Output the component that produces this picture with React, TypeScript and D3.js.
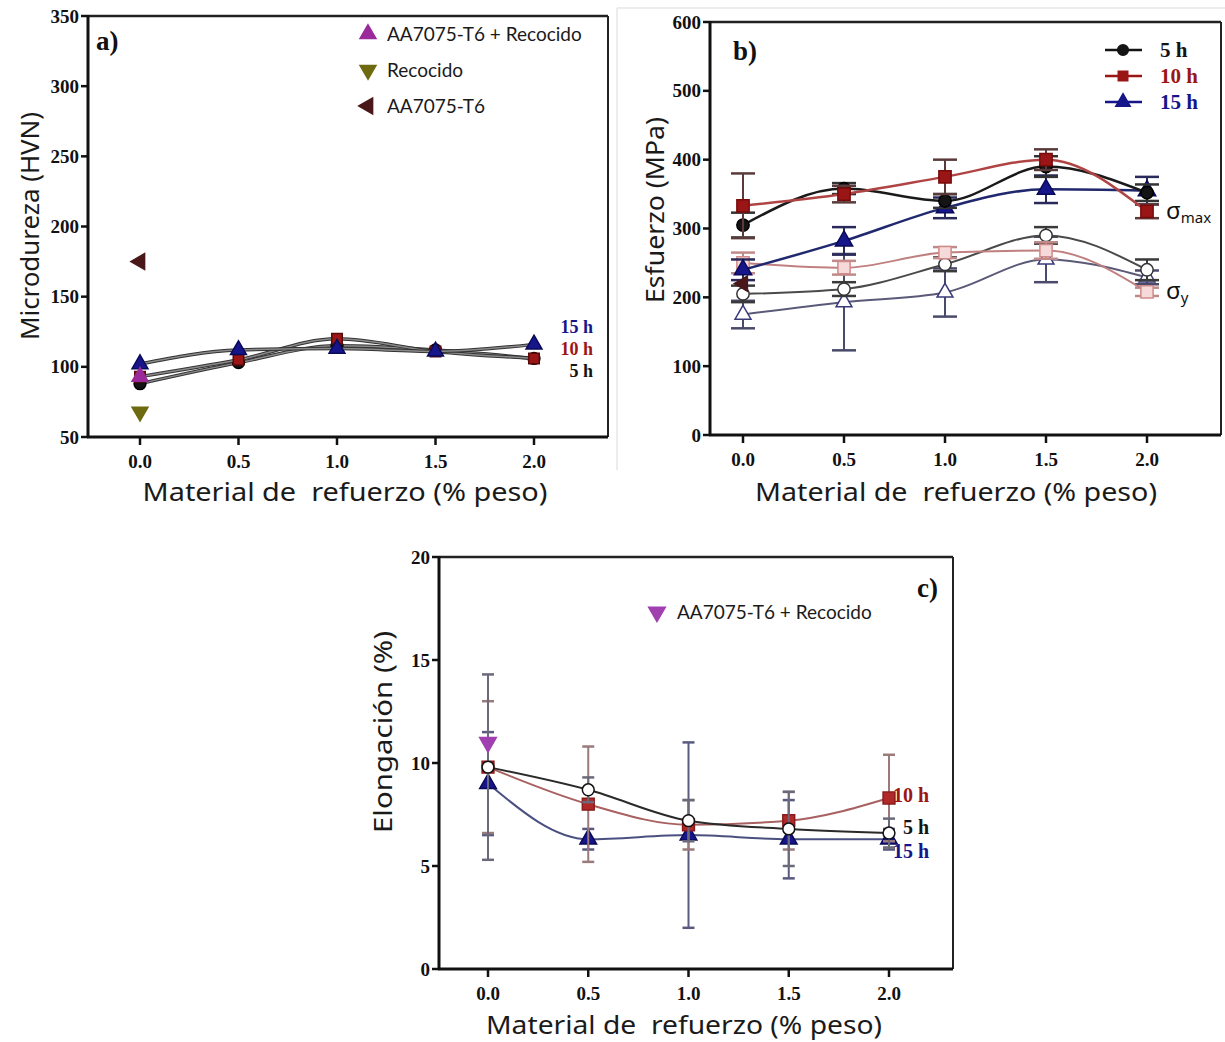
import React from "react";
import * as d3 from "d3";

// ---------- shared ----------
const X_VALUES = [0, 0.5, 1.0, 1.5, 2.0];
const X_TICK_LABELS = ["0.0", "0.5", "1.0", "1.5", "2.0"];
const X_TITLE = "Material de\u00a0 refuerzo (% peso)";
const SERIES_NAMES = ["5 h", "10 h", "15 h"];

// ---------- panel a: microdureza ----------
const HV_TICKS = [50, 100, 150, 200, 250, 300, 350];
const HV_5H = [88, 103, 115, 112, 106];
const HV_10H = [93, 105, 120, 111, 106];
const HV_15H = [102, 112, 113, 111, 116];
const HV_REF_NAMES = ["AA7075-T6 + Recocido", "Recocido", "AA7075-T6"];
const HV_REF_VALUES = [93, 68, 175];

// ---------- panel b: esfuerzo ----------
const MPA_TICKS = [0, 100, 200, 300, 400, 500, 600];
const SMAX_5H = [305, 358, 340, 390, 352];
const SMAX_5H_ERR = [18, 8, 10, 15, 12];
const SMAX_10H = [333, 350, 375, 400, 325];
const SMAX_10H_ERR = [47, 12, 25, 15, 10];
const SMAX_15H = [240, 282, 330, 357, 355];
const SMAX_15H_ERR = [15, 20, 15, 20, 20];
const SY_5H = [205, 212, 248, 290, 240];
const SY_5H_ERR = [12, 10, 10, 12, 15];
const SY_10H = [250, 243, 265, 268, 208];
const SY_10H_ERR = [15, 10, 8, 12, 6];
const SY_15H = [175, 193, 207, 255, 229];
const SY_15H_ERR = [20, 70, 35, 33, 10];
const MPA_REF_VALUE = 220;

// ---------- panel c: elongacion ----------
const EL_TICKS = [0, 5, 10, 15, 20];
const EL_5H = [9.8, 8.7, 7.2, 6.8, 6.6];
const EL_5H_ERR = [4.5, 0.6, 1.0, 1.8, 0.7];
const EL_10H = [9.8, 8.0, 7.0, 7.2, 8.3];
const EL_10H_ERR = [3.2, 2.8, 1.2, 1.4, 2.1];
const EL_15H = [9.0, 6.3, 6.5, 6.3, 6.3];
const EL_15H_ERR = [2.5, 0.5, 4.5, 1.9, 0.5];
const EL_REF_NAME = "AA7075-T6 + Recocido";
const EL_REF_VALUE = 11.0;

const TICK_FONT = "'Liberation Serif', 'Times New Roman', serif";
const TITLE_FONT = "'Noto Sans', 'DejaVu Sans', sans-serif";
const LEGEND_FONT = "Lato, 'Open Sans', sans-serif";

const C_BLACK = "#141414";
const C_RED = "#9a1616";
const C_NAVY = "#16168a";

type Scale = d3.ScaleLinear<number, number>;

function sym(type: d3.SymbolType, size: number) {
  return d3.symbol().type(type).size(size)() as string;
}

function Marker({ cx, cy, type, size, fill, stroke, rot = 0, sw = 1.5 }: any) {
  return (
    <path
      d={sym(type, size)}
      transform={`translate(${cx},${cy}) rotate(${rot})`}
      fill={fill}
      stroke={stroke}
      strokeWidth={sw}
    />
  );
}

function Frame({ x, y, left, right, top, bottom, ticks }: any) {
  return (
    <g>
      <line x1={left} x2={right} y1={top} y2={top} stroke="#222" strokeWidth={2.5} />
      <line x1={right} x2={right} y1={top} y2={bottom} stroke="#222" strokeWidth={2} />
      <line x1={left} x2={left} y1={top - 1} y2={bottom + 1} stroke="#111" strokeWidth={3} />
      <line x1={left - 1} x2={right} y1={bottom} y2={bottom} stroke="#111" strokeWidth={3} />
      {ticks.map((t: number) => (
        <g key={"y" + t}>
          <line x1={left - 7} x2={left} y1={y(t)} y2={y(t)} stroke="#111" strokeWidth={2.5} />
          <text
            x={left - 9}
            y={y(t)}
            dy="0.35em"
            textAnchor="end"
            fontFamily={TICK_FONT}
            fontWeight="bold"
            fontSize={19}
            fill="#111"
          >
            {t}
          </text>
        </g>
      ))}
      {X_VALUES.map((v, i) => (
        <g key={"x" + i}>
          <line x1={x(v)} x2={x(v)} y1={bottom} y2={bottom + 8} stroke="#111" strokeWidth={2.5} />
          <text
            x={x(v)}
            y={bottom + 31}
            textAnchor="middle"
            fontFamily={TICK_FONT}
            fontWeight="bold"
            fontSize={19}
            fill="#111"
          >
            {X_TICK_LABELS[i]}
          </text>
        </g>
      ))}
    </g>
  );
}

function Title({ x, y, text, len, rotate = false, size = 25 }: any) {
  return (
    <text
      x={0}
      y={0}
      transform={`translate(${x},${y})${rotate ? " rotate(-90)" : ""}`}
      textAnchor="middle"
      dy="0.35em"
      fontFamily={TITLE_FONT}
      fontSize={size}
      fill="#1a1a1a"
      textLength={len}
      lengthAdjust="spacingAndGlyphs"
    >
      {text}
    </text>
  );
}

function Series({ x, y, values, errors, lineColor, lineWidth = 2.5, outline, type, size, fill, stroke, errColor, cap = 10, rot = 0 }: any) {
  const pts: [number, number][] = values.map((v: number, i: number) => [x(X_VALUES[i]), y(v)]);
  const line = d3.line().curve(d3.curveMonotoneX)(pts) as string;
  return (
    <g>
      {errors &&
        values.map((v: number, i: number) => {
          const cx = x(X_VALUES[i]);
          const y1 = y(v + errors[i]);
          const y2 = y(v - errors[i]);
          return (
            <g key={"e" + i} stroke={errColor} strokeWidth={2}>
              <line x1={cx} x2={cx} y1={y1} y2={y2} />
              <line x1={cx - cap} x2={cx + cap} y1={y1} y2={y1} strokeWidth={2.5} />
              <line x1={cx - cap} x2={cx + cap} y1={y2} y2={y2} strokeWidth={2.5} />
            </g>
          );
        })}
      {outline && <path d={line} fill="none" stroke={outline} strokeWidth={lineWidth + 2} />}
      <path d={line} fill="none" stroke={lineColor} strokeWidth={lineWidth} />
      {pts.map((p, i) => (
        <Marker key={"m" + i} cx={p[0]} cy={p[1]} type={type} size={size} fill={fill} stroke={stroke} rot={rot} />
      ))}
    </g>
  );
}

function PanelA() {
  const left = 88, right = 608, top = 16, bottom = 437;
  const x: Scale = d3.scaleLinear().domain([0, 2]).range([140, 534]);
  const y: Scale = d3.scaleLinear().domain([50, 350]).range([bottom, top]);
  const refStyles = [
    { type: d3.symbolTriangle, fill: "#9a2a9a", rot: 0 },
    { type: d3.symbolTriangle, fill: "#6e6a10", rot: 180 },
    { type: d3.symbolTriangle, fill: "#4a1818", rot: -90 },
  ];
  return (
    <g>
      <Frame x={x} y={y} left={left} right={right} top={top} bottom={bottom} ticks={HV_TICKS} />
      <text x={96} y={50} fontFamily={TICK_FONT} fontWeight="bold" fontSize={27} fill="#111">a)</text>
      <Series x={x} y={y} values={HV_5H} lineColor="#8a8a8a" outline="#333" lineWidth={1.5} type={d3.symbolCircle} size={110} fill={C_BLACK} stroke="#000" />
      <Series x={x} y={y} values={HV_10H} lineColor="#8a8a8a" outline="#333" lineWidth={1.5} type={d3.symbolSquare} size={110} fill={C_RED} stroke="#5a0a0a" />
      <Series x={x} y={y} values={HV_15H} lineColor="#8a8a8a" outline="#333" lineWidth={1.5} type={d3.symbolTriangle} size={110} fill={C_NAVY} stroke="#0a0a5a" />
      {HV_REF_VALUES.map((v, i) => (
        <Marker key={i} cx={x(0)} cy={y(v)} type={refStyles[i].type} size={110} fill={refStyles[i].fill} stroke={refStyles[i].fill} rot={refStyles[i].rot} />
      ))}
      {HV_REF_NAMES.map((n, i) => (
        <g key={n}>
          <Marker cx={368} cy={34 + i * 36} type={refStyles[i].type} size={110} fill={refStyles[i].fill} stroke={refStyles[i].fill} rot={refStyles[i].rot} />
          <text x={387} y={34 + i * 36} dy="0.35em" fontFamily={LEGEND_FONT} fontSize={19} fill="#1a1a1a">{n}</text>
        </g>
      ))}
      {[
        { t: SERIES_NAMES[2], c: C_NAVY, yy: 327 },
        { t: SERIES_NAMES[1], c: C_RED, yy: 349 },
        { t: SERIES_NAMES[0], c: C_BLACK, yy: 371 },
      ].map((d) => (
        <text key={d.t} x={593} y={d.yy} dy="0.33em" textAnchor="end" fontFamily={TICK_FONT} fontWeight="bold" fontSize={18} fill={d.c}>{d.t}</text>
      ))}
      <Title x={30} y={226} text="Microdureza (HVN)" len={228} rotate />
      <Title x={345} y={492} text={X_TITLE} len={405} />
    </g>
  );
}

function PanelB() {
  const left = 710, right = 1221, top = 22, bottom = 435;
  const x: Scale = d3.scaleLinear().domain([0, 2]).range([743, 1147]);
  const y: Scale = d3.scaleLinear().domain([0, 600]).range([bottom, top]);
  return (
    <g>
      <line x1={617} x2={1225} y1={8} y2={8} stroke="#ececec" strokeWidth={2} />
      <line x1={617} x2={617} y1={8} y2={470} stroke="#ececec" strokeWidth={2} />
      <Frame x={x} y={y} left={left} right={right} top={top} bottom={bottom} ticks={MPA_TICKS} />
      <text x={733} y={60} fontFamily={TICK_FONT} fontWeight="bold" fontSize={27} fill="#111">b)</text>
      {/* yield stress (open) */}
      <Series x={x} y={y} values={SY_15H} errors={SY_15H_ERR} errColor="#4a4a6a" cap={12} lineColor="#5a5a78" lineWidth={2} type={d3.symbolTriangle} size={110} fill="#fff" stroke="#3a3a7a" />
      <Series x={x} y={y} values={SY_5H} errors={SY_5H_ERR} errColor="#3a3a3a" cap={12} lineColor="#4a4a4a" lineWidth={2} type={d3.symbolCircle} size={120} fill="#fff" stroke="#333" />
      <Series x={x} y={y} values={SY_10H} errors={SY_10H_ERR} errColor="#c08a8a" cap={12} lineColor="#c08080" lineWidth={2} type={d3.symbolSquare} size={150} fill="#f6dada" stroke="#d08a8a" />
      {/* max stress (filled) */}
      <Series x={x} y={y} values={SMAX_15H} errors={SMAX_15H_ERR} errColor="#2a2a5a" cap={12} lineColor="#20286e" lineWidth={2.5} type={d3.symbolTriangle} size={130} fill={C_NAVY} stroke="#0a0a5a" />
      <Series x={x} y={y} values={SMAX_5H} errors={SMAX_5H_ERR} errColor="#333" cap={12} lineColor="#1a1a1a" lineWidth={2.5} type={d3.symbolCircle} size={120} fill={C_BLACK} stroke="#000" />
      <Series x={x} y={y} values={SMAX_10H} errors={SMAX_10H_ERR} errColor="#5a3a3a" cap={12} lineColor="#b04444" lineWidth={2.5} type={d3.symbolSquare} size={150} fill={C_RED} stroke="#7a0a0a" />
      <Marker cx={x(0)} cy={y(MPA_REF_VALUE)} type={d3.symbolTriangle} size={100} fill="#4a1818" stroke="#4a1818" rot={-90} />
      {[
        { t: SERIES_NAMES[0], c: C_BLACK, type: d3.symbolCircle, f: C_BLACK },
        { t: SERIES_NAMES[1], c: C_RED, type: d3.symbolSquare, f: C_RED },
        { t: SERIES_NAMES[2], c: C_NAVY, type: d3.symbolTriangle, f: C_NAVY },
      ].map((d, i) => (
        <g key={d.t}>
          <line x1={1105} x2={1142} y1={50 + i * 26} y2={50 + i * 26} stroke={d.c} strokeWidth={2.5} />
          <Marker cx={1123} cy={50 + i * 26} type={d.type} size={90} fill={d.f} stroke={d.c} />
          <text x={1160} y={50 + i * 26} dy="0.35em" fontFamily={TICK_FONT} fontWeight="bold" fontSize={21} fill={d.c}>{d.t}</text>
        </g>
      ))}
      <text x={1166} y={211} dy="0.35em" fontFamily={TITLE_FONT} fontSize={24} fill="#111">
        σ<tspan fontSize={15} dy="4">max</tspan>
      </text>
      <text x={1166} y={291} dy="0.35em" fontFamily={TITLE_FONT} fontSize={24} fill="#111">
        σ<tspan fontSize={15} dy="4">y</tspan>
      </text>
      <Title x={655} y={210} text="Esfuerzo (MPa)" len={186} rotate />
      <Title x={956} y={492} text={X_TITLE} len={402} />
    </g>
  );
}

function PanelC() {
  const left = 439, right = 953, top = 557, bottom = 969;
  const x: Scale = d3.scaleLinear().domain([0, 2]).range([488, 889]);
  const y: Scale = d3.scaleLinear().domain([0, 20]).range([bottom, top]);
  return (
    <g>
      <Frame x={x} y={y} left={left} right={right} top={top} bottom={bottom} ticks={EL_TICKS} />
      <text x={917} y={597} fontFamily={TICK_FONT} fontWeight="bold" fontSize={27} fill="#111">c)</text>
      <Series x={x} y={y} values={EL_15H} errors={EL_15H_ERR} errColor="#5a5a80" cap={6} lineColor="#4a5080" lineWidth={2} type={d3.symbolTriangle} size={120} fill={C_NAVY} stroke="#0a0a5a" />
      <Series x={x} y={y} values={EL_10H} errors={EL_10H_ERR} errColor="#9a7a7a" cap={6} lineColor="#a86060" lineWidth={2} type={d3.symbolSquare} size={140} fill="#b02828" stroke="#8a1a1a" />
      <Series x={x} y={y} values={EL_5H} errors={EL_5H_ERR} errColor="#6a6a7a" cap={6} lineColor="#2a2a2a" lineWidth={2} type={d3.symbolCircle} size={110} fill="#fff" stroke="#111" />
      <Marker cx={x(0)} cy={y(EL_REF_VALUE)} type={d3.symbolTriangle} size={120} fill="#a040b0" stroke="#a040b0" rot={180} />
      <Marker cx={657} cy={612} type={d3.symbolTriangle} size={120} fill="#a040b0" stroke="#a040b0" rot={180} />
      <text x={677} y={612} dy="0.35em" fontFamily={LEGEND_FONT} fontSize={19} fill="#1a1a1a">{EL_REF_NAME}</text>
      {[
        { t: SERIES_NAMES[1], c: C_RED, yy: 795 },
        { t: SERIES_NAMES[0], c: C_BLACK, yy: 827 },
        { t: SERIES_NAMES[2], c: C_NAVY, yy: 851 },
      ].map((d) => (
        <text key={d.t} x={929} y={d.yy} dy="0.35em" textAnchor="end" fontFamily={TICK_FONT} fontWeight="bold" fontSize={20} fill={d.c}>{d.t}</text>
      ))}
      <Title x={383} y={732} text="Elongación (%)" len={202} rotate />
      <Title x={684} y={1025} text={X_TITLE} len={396} />
    </g>
  );
}

export default function App() {
  return (
    <svg
      width={1225}
      height={1042}
      viewBox="0 0 1225 1042"
      style={{ position: "fixed", left: 0, top: 0, background: "#fff" }}
    >
      <rect x={0} y={0} width={1225} height={1042} fill="#fff" />
      <PanelA />
      <PanelB />
      <PanelC />
    </svg>
  );
}
